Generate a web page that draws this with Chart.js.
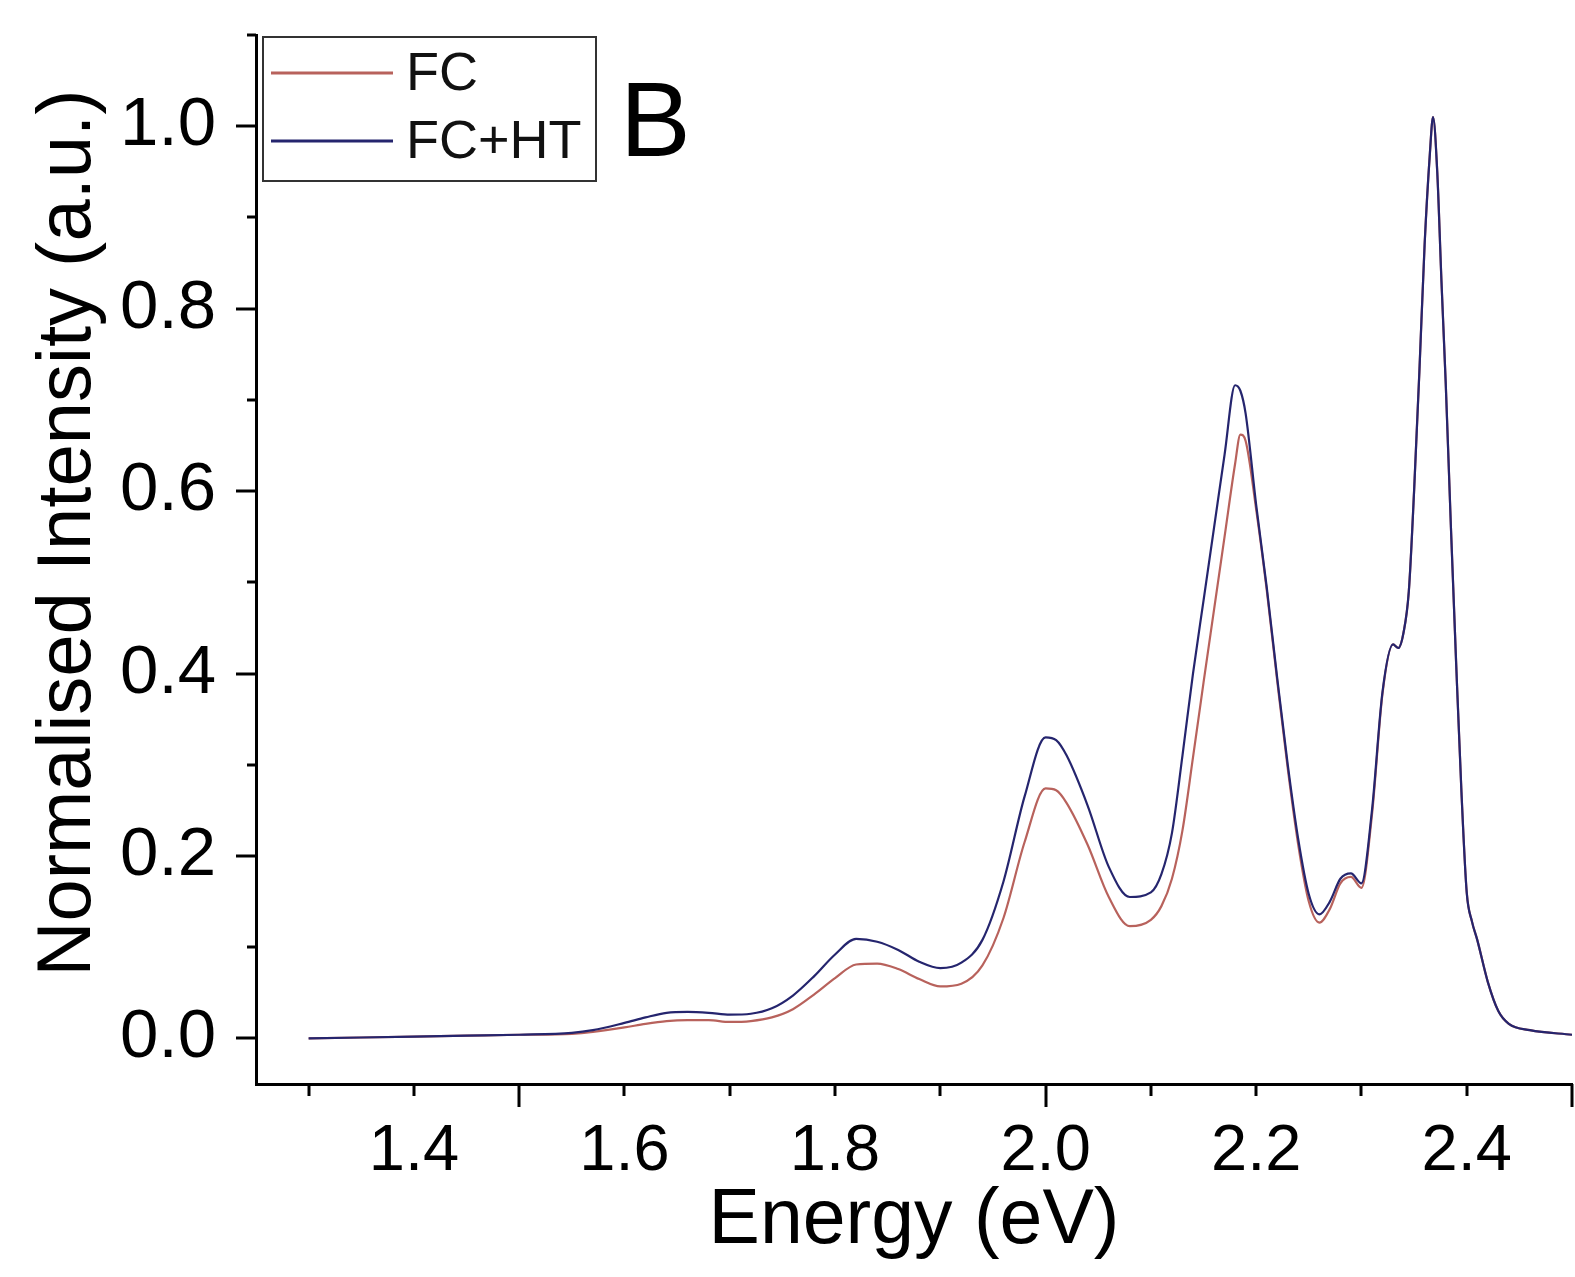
<!DOCTYPE html>
<html>
<head>
<meta charset="utf-8">
<script src="https://cdn.jsdelivr.net/npm/chart.js@4.4.1/dist/chart.umd.min.js"></script>
<style>
html,body{margin:0;padding:0;background:#fff;}
#wrap{width:1575px;height:1277px;position:relative;}
</style>
</head>
<body>
<div id="wrap"><canvas id="c" width="1575" height="1277"></canvas></div>
<script>
// ---- data ----
const energy = [1.30, 1.35, 1.40, 1.45, 1.50, 1.55, 1.57, 1.60, 1.62, 1.64, 1.66, 1.68, 1.70, 1.72, 1.74, 1.76, 1.78, 1.80, 1.82, 1.84,
  1.86, 1.88, 1.90, 1.92, 1.94, 1.96, 1.98, 2.00, 2.01, 2.02, 2.04, 2.06, 2.08, 2.10, 2.11, 2.12, 2.13, 2.14, 2.15, 2.16,
  2.17, 2.18, 2.185, 2.19, 2.20, 2.21, 2.22, 2.23, 2.24, 2.25, 2.26, 2.27, 2.28, 2.29, 2.30, 2.31, 2.32, 2.33, 2.335, 2.34,
  2.345, 2.35, 2.355, 2.36, 2.365, 2.368, 2.372, 2.376, 2.38, 2.385, 2.39, 2.395, 2.40, 2.405, 2.41, 2.42, 2.43, 2.44, 2.46, 2.50];

const fc = [0.000, 0.001, 0.002, 0.003, 0.004, 0.005, 0.007, 0.012, 0.016, 0.019, 0.020, 0.020, 0.018, 0.019, 0.023, 0.032, 0.048, 0.066, 0.081, 0.082,
  0.076, 0.065, 0.057, 0.060, 0.080, 0.132, 0.215, 0.274, 0.272, 0.258, 0.212, 0.155, 0.123, 0.130, 0.145, 0.175, 0.228, 0.308, 0.390, 0.470,
  0.550, 0.630, 0.662, 0.655, 0.580, 0.492, 0.392, 0.296, 0.212, 0.150, 0.127, 0.142, 0.170, 0.177, 0.165, 0.245, 0.378, 0.432, 0.428, 0.445,
  0.490, 0.600, 0.730, 0.870, 0.970, 1.010, 0.950, 0.830, 0.720, 0.560, 0.410, 0.270, 0.160, 0.128, 0.108, 0.062, 0.030, 0.016, 0.009, 0.004];

const fcHt = [0.000, 0.001, 0.002, 0.003, 0.004, 0.006, 0.009, 0.017, 0.023, 0.028, 0.029, 0.028, 0.026, 0.027, 0.033, 0.047, 0.068, 0.092, 0.109, 0.106,
  0.097, 0.084, 0.077, 0.083, 0.108, 0.172, 0.265, 0.330, 0.327, 0.310, 0.255, 0.188, 0.155, 0.160, 0.180, 0.225, 0.310, 0.400, 0.480, 0.560,
  0.640, 0.716, 0.710, 0.685, 0.585, 0.495, 0.395, 0.300, 0.218, 0.158, 0.136, 0.150, 0.175, 0.181, 0.170, 0.250, 0.380, 0.432, 0.428, 0.445,
  0.490, 0.600, 0.730, 0.870, 0.970, 1.010, 0.950, 0.830, 0.720, 0.560, 0.410, 0.270, 0.160, 0.128, 0.108, 0.062, 0.030, 0.016, 0.009, 0.004];

const seriesNames = ['FC', 'FC+HT'];
const xTickValues = [1.4, 1.6, 1.8, 2.0, 2.2, 2.4];
const yTickValues = [0.0, 0.2, 0.4, 0.6, 0.8, 1.0];
const xTickMarks = [1.3, 1.4, 1.5, 1.6, 1.7, 1.8, 1.9, 2.0, 2.1, 2.2, 2.3, 2.4, 2.5];
const xLongTickMarks = [1.5, 2.0, 2.5];
const yTickMarks = [0.0, 0.1, 0.2, 0.3, 0.4, 0.5, 0.6, 0.7, 0.8, 0.9, 1.0, 1.1];
const panelLabel = 'B';
const xTitle = 'Energy (eV)';
const yTitle = 'Normalised Intensity (a.u.)';

const colFC = '#b8625c';
const colFCHT = '#25256e';
const FONT = '"Liberation Sans", Arial, Helvetica, sans-serif';

const pts = (ys) => energy.map((x, i) => ({x: x, y: ys[i]}));
const near = (a, b) => Math.abs(a - b) < 1e-6;

const tickMarkPlugin = {
  id: 'tickMarks',
  afterDraw(chart) {
    const ctx = chart.ctx, xs = chart.scales.x, ys = chart.scales.y, ca = chart.chartArea;
    ctx.save();
    ctx.strokeStyle = '#000';
    ctx.lineWidth = 3;
    ctx.lineCap = 'butt';
    xTickMarks.forEach(v => {
      const px = Math.round(xs.getPixelForValue(v));
      const len = xLongTickMarks.some(l => near(l, v)) ? 23 : 12;
      ctx.beginPath(); ctx.moveTo(px, ca.bottom); ctx.lineTo(px, ca.bottom + len); ctx.stroke();
    });
    yTickMarks.forEach(v => {
      const py = Math.round(ys.getPixelForValue(v));
      const len = yTickValues.some(l => near(l, v)) ? 20 : 9;
      ctx.beginPath(); ctx.moveTo(ca.left, py); ctx.lineTo(ca.left - len, py); ctx.stroke();
    });
    // y axis title, centred where the reference has it
    ctx.save();
    ctx.translate(69, 533);
    ctx.rotate(-Math.PI / 2);
    ctx.font = '76px ' + FONT;
    ctx.fillStyle = '#000';
    ctx.textAlign = 'center';
    ctx.textBaseline = 'middle';
    ctx.fillText(yTitle, 0, 0);
    ctx.restore();
    ctx.restore();
  }
};

const legendPlugin = {
  id: 'boxLegend',
  afterDraw(chart) {
    const ctx = chart.ctx, ca = chart.chartArea;
    const bx = ca.left + 7, by = ca.top + 2, bw = 333, bh = 144;
    ctx.save();
    ctx.fillStyle = '#fff';
    ctx.fillRect(bx, by, bw, bh);
    ctx.strokeStyle = '#333';
    ctx.lineWidth = 2;
    ctx.strokeRect(bx, by, bw, bh);
    const rows = [{name: seriesNames[0], color: colFC, y: by + 36}, {name: seriesNames[1], color: colFCHT, y: by + 104}];
    ctx.font = '54px ' + FONT;
    ctx.textBaseline = 'middle';
    ctx.fillStyle = '#111';
    rows.forEach(r => {
      ctx.strokeStyle = r.color;
      ctx.lineWidth = 3;
      ctx.beginPath(); ctx.moveTo(bx + 8, r.y); ctx.lineTo(bx + 130, r.y); ctx.stroke();
      ctx.fillText(r.name, bx + 143, r.y + 2);
    });
    ctx.font = '106px ' + FONT;
    ctx.textBaseline = 'alphabetic';
    ctx.fillStyle = '#000';
    ctx.fillText(panelLabel, ca.left + 364, ca.top + 121);
    ctx.restore();
  }
};

Chart.defaults.font.family = FONT;
Chart.defaults.color = '#000';

new Chart(document.getElementById('c'), {
  type: 'line',
  data: {
    datasets: [
      {label: seriesNames[1], data: pts(fcHt), borderColor: colFCHT, borderWidth: 2.2, pointRadius: 0,
       cubicInterpolationMode: 'monotone', fill: false, order: 0},
      {label: seriesNames[0], data: pts(fc), borderColor: colFC, borderWidth: 2.2, pointRadius: 0,
       cubicInterpolationMode: 'monotone', fill: false, order: 1}
    ]
  },
  options: {
    responsive: false,
    devicePixelRatio: 1,
    animation: false,
    layout: {padding: {left: 0, right: 3, top: 35, bottom: 0}},
    plugins: {legend: {display: false}, tooltip: {enabled: false}},
    scales: {
      x: {
        type: 'linear', position: 'bottom', min: 1.25, max: 2.5,
        afterBuildTicks: s => { s.ticks = xTickValues.map(v => ({value: v})); },
        afterFit: s => { s.height = 193; s.paddingLeft = 0; s.paddingRight = 0; },
        ticks: {font: {size: 65}, padding: 7, color: '#000', maxRotation: 0, autoSkip: false,
                callback: v => Number(v).toFixed(1)},
        grid: {drawOnChartArea: false, drawTicks: true, tickLength: 22, tickColor: 'rgba(0,0,0,0)'},
        border: {display: true, color: '#000', width: 3},
        title: {display: true, text: xTitle, font: {size: 77}, color: '#000', padding: {top: 0, bottom: 9}}
      },
      y: {
        type: 'linear', position: 'left', min: -0.05, max: 1.1,
        afterBuildTicks: s => { s.ticks = yTickValues.map(v => ({value: v})); },
        afterFit: s => { s.width = 256; s.paddingTop = 0; s.paddingBottom = 0; },
        ticks: {font: {size: 69}, padding: 20, color: '#000', callback: v => Number(v).toFixed(1)},
        grid: {drawOnChartArea: false, drawTicks: true, tickLength: 20, tickColor: 'rgba(0,0,0,0)'},
        border: {display: true, color: '#000', width: 3},
        title: {display: false, text: yTitle}
      }
    }
  },
  plugins: [tickMarkPlugin, legendPlugin]
});
</script>
</body>
</html>
